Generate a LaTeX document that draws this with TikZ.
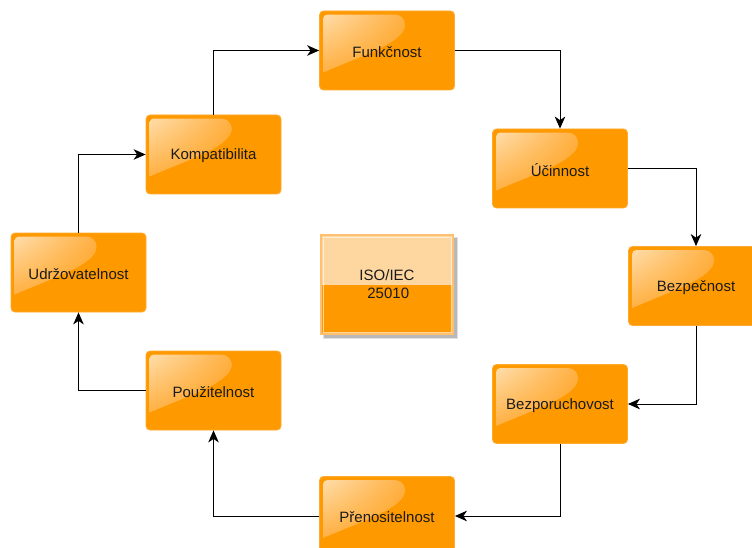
\documentclass[tikz,border=0pt]{standalone}
\usepackage{fontspec}
\setmainfont{Liberation Sans}
\usetikzlibrary{arrows.meta,shadings}
\definecolor{boxorange}{HTML}{FF9900}
\definecolor{boxedge}{HTML}{FFAA30}
\definecolor{glosshi}{HTML}{FFDDAA}
\definecolor{glossmid}{HTML}{FFB043}
\definecolor{glosslo}{HTML}{FFA11A}
\definecolor{isolight}{HTML}{FDD6A0}
\definecolor{isoedge}{HTML}{FFC070}
\definecolor{txt}{HTML}{1A1A1A}
\tikzset{
  qbox/.style={draw=boxedge, line width=0.8pt, fill=boxorange, rounded corners=4pt,
    minimum width=135pt, minimum height=79pt, inner sep=0pt},
  qlabel/.style={font=\fontsize{15}{18}\selectfont, text=txt, inner sep=0pt},
  conn/.style={draw=black, line width=1pt,
    -{Stealth[length=12pt,width=10.5pt,inset=3.5pt]}},
}
% glossy highlight in the upper left part of a box (y grows downwards)
\newcommand\glossbox[1]{%
  \begin{scope}[shift={(#1.north west)}]
    \shade[upper left=glosshi, upper right=glossmid, lower left=glossmid,
           lower right=glosslo]
      (4,8) arc[start angle=180, end angle=270, radius=4] -- (76,4)
      arc[start angle=270, end angle=360, radius=10]
      .. controls (86,32) and (45,44) .. (4,62) -- cycle;
  \end{scope}}
\begin{document}
\begin{tikzpicture}[x=1pt,y=-1pt]
\useasboundingbox (0,0) rectangle (752,548);
\clip (0,0) rectangle (752,548);

% quality characteristics
\node[qbox] (funk)   at (387,50.5)    {};
\node[qbox] (ucin)   at (560,168.5)   {};
\node[qbox] (bezp)   at (696,286)     {};
\node[qbox] (bezpor) at (560,404)     {};
\node[qbox] (pren)   at (387,516)     {};
\node[qbox] (pouz)   at (213.5,390.5) {};
\node[qbox] (udrz)   at (78.5,272.5)  {};
\node[qbox] (komp)   at (213.5,154.5) {};

\foreach \n in {funk,ucin,bezp,bezpor,pren,pouz,udrz,komp}{\glossbox{\n}}

\node[qlabel] (funk-t)   at ([yshift=-1.5pt]funk.center)   {Funkčnost};
\node[qlabel] (ucin-t)   at ([yshift=-1.5pt]ucin.center)   {Účinnost};
\node[qlabel] (bezp-t)   at ([yshift=-1.5pt]bezp.center)   {Bezpečnost};
\node[qlabel] (bezpor-t) at ([yshift=-1.5pt]bezpor.center) {Bezporuchovost};
\node[qlabel] (pren-t)   at ([yshift=-1.5pt]pren.center)   {Přenositelnost};
\node[qlabel] (pouz-t)   at ([yshift=-1.5pt]pouz.center)   {Použitelnost};
\node[qlabel] (udrz-t)   at ([yshift=-1.5pt]udrz.center)   {Udržovatelnost};
\node[qlabel] (komp-t)   at ([yshift=-1.5pt]komp.center)   {Kompatibilita};

% central standard box with its soft shadow
\fill[black, opacity=0.18] (324,238) rectangle (457,338);
\fill[black, opacity=0.12] (323,237) rectangle (458,339);
\node[minimum width=132pt, minimum height=99pt, inner sep=0pt] (iso) at (387,284.5) {};
\fill[isolight] (iso.north west) rectangle (iso.east);
\fill[boxorange] (iso.west) rectangle (iso.south east);
\draw[isoedge, line width=1.6pt] (iso.north west) rectangle (iso.south east);
\draw[white, opacity=0.6, line width=0.6pt] ([shift={(2pt,-2pt)}]iso.north west) rectangle ([shift={(-2pt,2pt)}]iso.south east);
\node[qlabel, align=center, font=\fontsize{15}{18}\selectfont] (iso-t) at (387,284.5) {ISO/IEC\\\,25010};

% cycle of connectors
\draw[conn] (komp.north) |- (funk.west);
\draw[conn] (funk.east) -| (ucin.north);
\draw[conn] (ucin.east) -| (bezp.north);
\draw[conn] (bezp.south) |- (bezpor.east);
\draw[conn] (bezpor.south) |- (pren.east);
\draw[conn] (pren.west) -| (pouz.south);
\draw[conn] (pouz.west) -| (udrz.south);
\draw[conn] (udrz.north) |- (komp.west);
\end{tikzpicture}
\end{document}
